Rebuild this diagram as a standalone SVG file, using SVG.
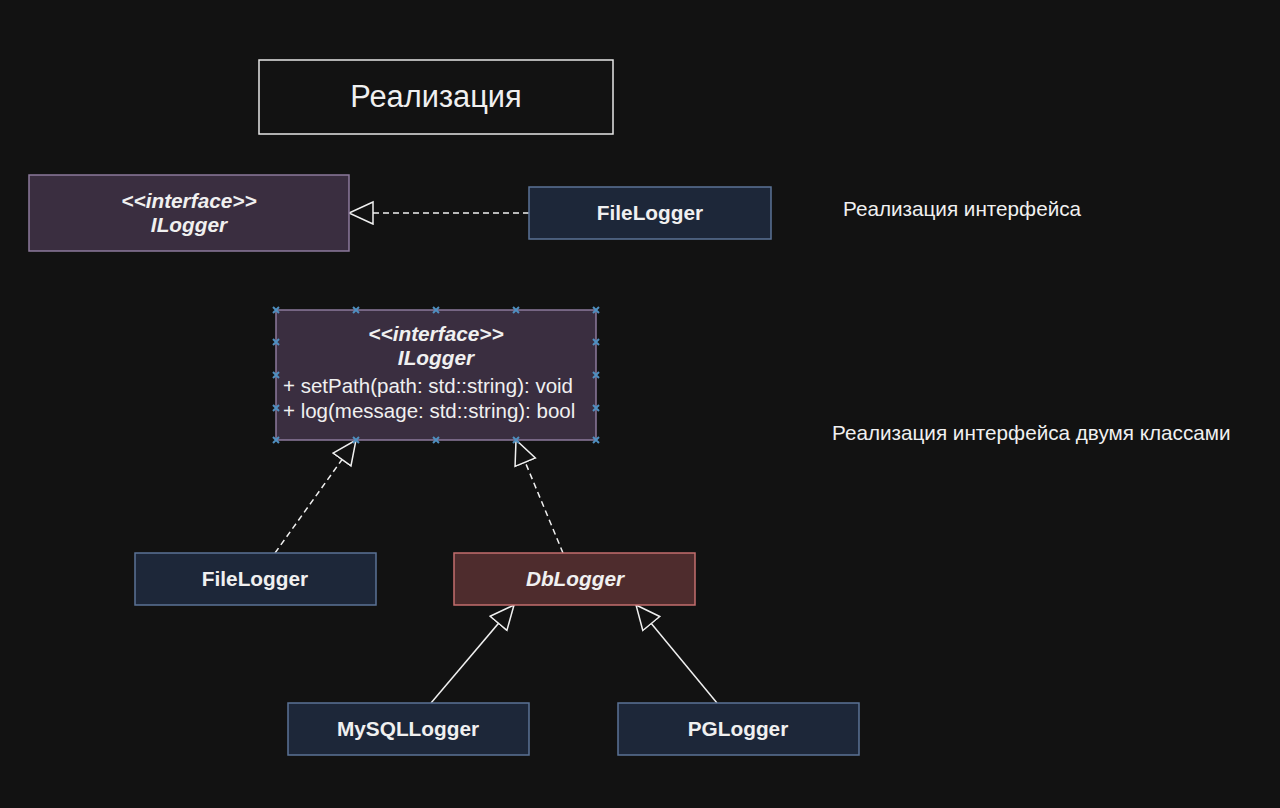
<svg xmlns="http://www.w3.org/2000/svg" width="1280" height="808" viewBox="0 0 1280 808">
<defs>
<style>
text{font-family:"Liberation Sans",Arial,Helvetica,sans-serif;fill:#f0f0f0}
.iface{fill:#3a2e40;stroke:#8c7a9c;stroke-width:1.5}
.cls{fill:#1d2739;stroke:#5b7396;stroke-width:1.5}
.abs{fill:#4e2c2d;stroke:#c46e6e;stroke-width:1.5}
.title{fill:none;stroke:#e6e6e6;stroke-width:1.5}
.b{font-weight:bold;font-size:20.8px}
.bi{font-weight:bold;font-style:italic;font-size:20.8px}
.r{font-size:20.5px}
.edge{fill:none;stroke:#f0f0f0;stroke-width:1.5}
.dash{stroke-dasharray:6 4}
.h{stroke:#4f8fc0;stroke-width:2;fill:none}
</style>
<marker id="tri" markerUnits="userSpaceOnUse" markerWidth="28" markerHeight="26" refX="25" refY="12" orient="auto" viewBox="0 0 28 26">
<path d="M1,1 L25,12 L1,23 Z" fill="#121212" stroke="#f0f0f0" stroke-width="1.5"/>
</marker>
<g id="hm"><path class="h" d="M-3,-3 L3,3 M-3,3 L3,-3"/></g>
</defs>
<rect width="1280" height="808" fill="#121212"/>

<g id="title">
<rect class="title" x="259" y="60" width="354" height="74"/>
<text x="436" y="107" text-anchor="middle" font-size="30.8">Реализация</text>
</g>

<g id="connectors">
<line class="edge dash" x1="529" y1="213" x2="349" y2="213" marker-end="url(#tri)"/>
<line class="edge dash" x1="275" y1="553" x2="356" y2="440" marker-end="url(#tri)"/>
<line class="edge dash" x1="563" y1="553" x2="516" y2="440" marker-end="url(#tri)"/>
<line class="edge" x1="431" y1="703" x2="514" y2="605" marker-end="url(#tri)"/>
<line class="edge" x1="717" y1="703" x2="636" y2="605" marker-end="url(#tri)"/>
</g>

<g id="ilogger1">
<rect class="iface" x="29" y="175" width="320" height="76"/>
<text class="bi" x="189" y="208" text-anchor="middle">&lt;&lt;interface&gt;&gt;</text>
<text class="bi" x="189" y="232" text-anchor="middle">ILogger</text>
</g>

<g id="filelogger1">
<rect class="cls" x="529" y="187" width="242" height="52"/>
<text class="b" x="650" y="220" text-anchor="middle">FileLogger</text>
</g>

<g id="label1">
<text x="843" y="216" font-size="20.7">Реализация интерфейса</text>
</g>

<g id="ilogger2">
<rect class="iface" x="276" y="310" width="320" height="130"/>
<text class="bi" x="436" y="340.5" text-anchor="middle">&lt;&lt;interface&gt;&gt;</text>
<text class="bi" x="436" y="364.5" text-anchor="middle">ILogger</text>
<text class="r" x="283" y="393">+ setPath(path: std::string): void</text>
<text class="r" x="283" y="418">+ log(message: std::string): bool</text>
<use href="#hm" x="276" y="310"/><use href="#hm" x="356" y="310"/><use href="#hm" x="436" y="310"/><use href="#hm" x="516" y="310"/><use href="#hm" x="596" y="310"/>
<use href="#hm" x="276" y="440"/><use href="#hm" x="356" y="440"/><use href="#hm" x="436" y="440"/><use href="#hm" x="516" y="440"/><use href="#hm" x="596" y="440"/>
<use href="#hm" x="276" y="342"/><use href="#hm" x="276" y="375"/><use href="#hm" x="276" y="408"/>
<use href="#hm" x="596" y="342"/><use href="#hm" x="596" y="375"/><use href="#hm" x="596" y="408"/>
</g>

<g id="label2">
<text x="832" y="440" font-size="20.7">Реализация интерфейса двумя классами</text>
</g>

<g id="filelogger2">
<rect class="cls" x="135" y="553" width="241" height="52"/>
<text class="b" x="255" y="586" text-anchor="middle">FileLogger</text>
</g>

<g id="dblogger">
<rect class="abs" x="454" y="553" width="241" height="52"/>
<text class="bi" x="575" y="586" text-anchor="middle">DbLogger</text>
</g>

<g id="mysqllogger">
<rect class="cls" x="288" y="703" width="241" height="52"/>
<text class="b" x="408" y="736" text-anchor="middle">MySQLLogger</text>
</g>

<g id="pglogger">
<rect class="cls" x="618" y="703" width="241" height="52"/>
<text class="b" x="738" y="736" text-anchor="middle">PGLogger</text>
</g>
</svg>
